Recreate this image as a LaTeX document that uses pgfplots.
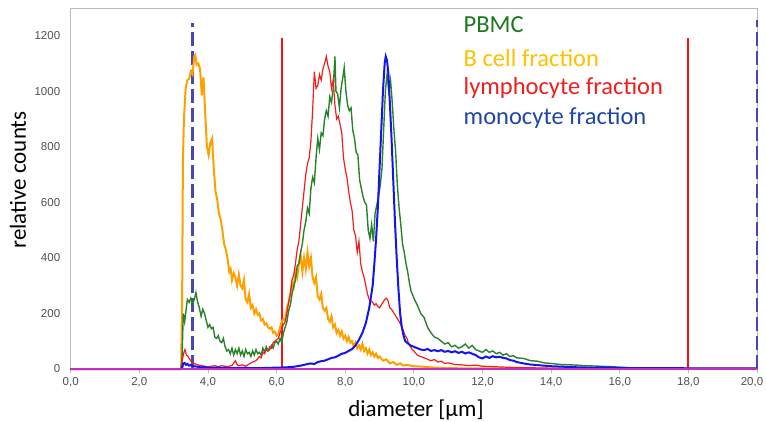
\documentclass[border=0pt]{standalone}
\usepackage{fontspec}
\setmainfont{Carlito}
\newfontfamily\ticksfont{Liberation Sans}
\usepackage{pgfplots}
\pgfplotsset{compat=1.18}

\definecolor{pbmc}{RGB}{40,130,40}
\definecolor{pbmctxt}{RGB}{30,120,30}
\definecolor{bcell}{RGB}{255,160,0}
\definecolor{bcelltxt}{RGB}{255,192,0}
\definecolor{lympho}{RGB}{240,30,30}
\definecolor{mono}{RGB}{20,20,240}
\definecolor{monotxt}{RGB}{30,70,165}
\definecolor{navydash}{RGB}{70,70,180}
\definecolor{gatered}{RGB}{240,20,20}
\definecolor{magline}{RGB}{195,45,195}
\definecolor{framegray}{RGB}{185,185,185}
\definecolor{ticktxt}{RGB}{80,80,80}

\begin{document}
\begin{tikzpicture}
\begin{axis}[
  scale only axis,
  width=686.3pt, height=360pt,
  at={(0,0)}, anchor=south west,
  xmin=0, xmax=20, ymin=0, ymax=1296,
  clip=false,
  axis line style={framegray, line width=1pt},
  xtick={0,2,...,18},
  extra x ticks={20},
  extra x tick style={xticklabel style={xshift=-5pt}},
  ytick={0,200,...,1200},
  tick align=outside,
  tick pos=left,
  major tick length=4pt,
  xtick style={framegray, line width=0.8pt},
  ytick style={draw=none},
  ticklabel style={font=\fontsize{11.5}{13}\selectfont\ticksfont, text=ticktxt},
  /pgf/number format/assume math mode=true,
  xticklabel style={/pgf/number format/.cd, use comma, fixed, fixed zerofill, precision=1, /tikz/.cd, yshift=-1pt},
  yticklabel style={/pgf/number format/1000 sep={}, xshift=-3pt},
  xlabel={diameter [µm]},
  ylabel={relative counts},
  label style={font=\fontsize{23}{27}\selectfont},
  xlabel style={at={(axis description cs:0.503,-0.114)}, anchor=center},
  ylabel style={at={(axis description cs:-0.077,0.525)}, anchor=center},
]

% vertical gates
\addplot [navydash, line width=2.6pt, dash pattern=on 14pt off 5pt] coordinates {(3.55,0) (3.55,1245)};
\addplot [navydash, line width=2.6pt, dash pattern=on 14pt off 5pt] coordinates {(20,0) (20,1255)};
\addplot [gatered, line width=2.2pt] coordinates {(6.16,0) (6.16,1190)};
\addplot [gatered, line width=2.2pt] coordinates {(18.0,0) (18.0,1190)};

% B cell fraction
\addplot [bcell, line width=2pt] coordinates {
(0,0)(3.22,0)(3.25,300)(3.27,750)(3.3,900)(3.35,1010)(3.4,1040)(3.45,1045)(3.5,1070)(3.55,1060)
(3.6,1125)(3.63,1130)(3.67,1095)(3.72,1100)(3.77,1080)(3.82,985)(3.87,1050)(3.92,920)(3.97,800)
(4.02,770)(4.07,815)(4.12,830)(4.17,720)(4.22,640)(4.27,610)(4.32,560)(4.37,540)(4.42,500)
(4.47,450)(4.52,430)(4.57,400)(4.62,350)(4.66,360)(4.7,320)(4.75,345)(4.8,330)(4.85,300)
(4.9,340)(4.95,300)(5.0,290)(5.05,320)(5.1,250)(5.15,240)(5.2,270)(5.25,220)(5.3,230)(5.35,200)
(5.4,215)(5.45,195)(5.5,200)(5.55,175)(5.6,180)(5.65,160)(5.7,165)(5.75,150)(5.8,145)(5.85,150)
(5.9,130)(5.95,135)(6.0,120)(6.05,125)(6.1,150)(6.15,170)(6.2,180)(6.25,175)(6.3,220)(6.35,240)
(6.4,270)(6.45,310)(6.5,295)(6.55,350)(6.6,330)(6.65,380)(6.7,410)(6.75,350)(6.8,400)(6.85,360)
(6.9,420)(6.95,370)(7.0,400)(7.05,330)(7.1,310)(7.15,330)(7.2,260)(7.25,250)(7.3,270)(7.35,220)
(7.4,210)(7.45,220)(7.5,180)(7.55,170)(7.6,190)(7.65,150)(7.7,160)(7.75,130)(7.8,140)(7.85,120)
(7.9,135)(7.95,110)(8.0,120)(8.05,100)(8.1,115)(8.15,95)(8.2,100)(8.25,80)(8.3,95)(8.35,75)
(8.4,85)(8.45,70)(8.5,90)(8.55,65)(8.6,75)(8.65,55)(8.7,70)(8.75,50)(8.8,60)(8.85,45)(8.9,55)
(8.95,40)(9.0,45)(9.1,30)(9.2,35)(9.3,20)(9.4,25)(9.5,15)(9.6,20)(9.7,12)(9.8,15)(10.0,10)
(10.3,8)(10.6,5)(11,3)(12,2)(20,1)
};

% PBMC
\addplot [pbmc, line width=1.4pt] coordinates {
(0,0)(3.22,0)(3.25,60)(3.28,200)(3.32,170)(3.36,210)(3.4,250)(3.45,240)(3.5,255)(3.55,235)
(3.6,250)(3.65,275)(3.7,240)(3.75,220)(3.8,190)(3.85,215)(3.9,200)(3.95,175)(4.0,150)(4.05,160)
(4.1,145)(4.15,150)(4.2,115)(4.25,110)(4.3,120)(4.35,100)(4.4,95)(4.45,110)(4.5,80)(4.55,65)
(4.6,70)(4.65,55)(4.7,75)(4.75,50)(4.8,70)(4.85,55)(4.9,75)(4.95,50)(5.0,65)(5.05,45)(5.1,70)
(5.15,55)(5.2,60)(5.25,45)(5.3,65)(5.35,50)(5.4,70)(5.45,55)(5.5,60)(5.55,50)(5.6,75)(5.65,60)
(5.7,80)(5.75,65)(5.8,70)(5.85,85)(5.9,75)(5.95,95)(6.0,100)(6.05,90)(6.1,110)(6.15,95)(6.2,130)
(6.25,150)(6.3,170)(6.35,210)(6.4,230)(6.45,270)(6.5,300)(6.55,320)(6.6,370)(6.65,380)(6.7,420)
(6.75,450)(6.8,500)(6.85,530)(6.9,580)(6.95,560)(7.0,650)(7.05,690)(7.1,670)(7.15,760)(7.2,830)
(7.25,790)(7.3,850)(7.35,840)(7.4,900)(7.45,930)(7.5,910)(7.55,980)(7.6,960)(7.65,1010)(7.7,1125)
(7.73,1000)(7.78,990)(7.83,940)(7.88,1010)(7.93,1050)(7.97,1085)(8.02,1000)(8.07,950)(8.12,930)
(8.17,940)(8.22,860)(8.27,830)(8.32,780)(8.37,770)(8.42,680)(8.47,650)(8.52,620)(8.57,600)
(8.62,590)(8.67,500)(8.72,470)(8.77,520)(8.82,460)(8.87,560)(8.92,590)(8.97,620)(9.02,660)
(9.07,720)(9.12,860)(9.17,1000)(9.22,1060)(9.27,1000)(9.32,1040)(9.37,960)(9.42,860)(9.47,780)
(9.52,660)(9.57,580)(9.62,520)(9.67,450)(9.72,420)(9.77,380)(9.82,350)(9.87,310)(9.92,280)
(9.97,265)(10.02,250)(10.1,230)(10.2,200)(10.3,185)(10.4,150)(10.5,130)(10.6,115)(10.7,110)
(10.8,100)(10.9,90)(11.0,95)(11.1,80)(11.2,85)(11.3,75)(11.4,80)(11.5,90)(11.6,75)(11.7,85)
(11.8,70)(11.9,65)(12.0,60)(12.1,70)(12.2,60)(12.3,65)(12.4,55)(12.5,60)(12.6,50)(12.7,55)
(12.8,45)(12.9,48)(13.0,40)(13.2,38)(13.4,30)(13.6,28)(13.8,22)(14.0,20)(14.3,16)(14.6,15)
(15.0,12)(15.4,10)(15.8,8)(16.2,5)(16.6,3)(17,2)(20,1)
};

% lymphocyte fraction
\addplot [lympho, line width=1.2pt] coordinates {
(0,0)(3.22,0)(3.25,30)(3.3,60)(3.33,70)(3.37,50)(3.42,45)(3.47,35)(3.52,25)(3.6,20)(3.7,15)
(3.8,12)(3.9,10)(4.0,8)(4.1,10)(4.2,12)(4.3,8)(4.4,12)(4.5,10)(4.6,9)(4.7,13)(4.8,30)(4.85,15)
(4.9,12)(5.0,15)(5.1,10)(5.2,18)(5.3,25)(5.4,30)(5.5,45)(5.55,40)(5.6,60)(5.65,55)(5.7,70)
(5.75,65)(5.8,80)(5.85,75)(5.9,95)(5.95,100)(6.0,105)(6.05,110)(6.1,130)(6.15,145)(6.2,160)
(6.25,170)(6.3,200)(6.35,240)(6.4,270)(6.45,320)(6.5,340)(6.55,380)(6.6,430)(6.65,460)(6.7,520)
(6.75,580)(6.8,640)(6.85,700)(6.9,740)(6.95,760)(7.0,820)(7.05,930)(7.1,1070)(7.15,1010)
(7.2,1020)(7.25,1060)(7.3,1040)(7.35,1080)(7.4,1100)(7.45,1125)(7.5,1090)(7.55,1070)(7.6,1010)
(7.65,1040)(7.7,950)(7.75,900)(7.8,910)(7.85,880)(7.9,850)(7.95,760)(8.0,720)(8.05,690)
(8.1,640)(8.15,600)(8.2,570)(8.25,500)(8.3,480)(8.35,420)(8.4,460)(8.45,380)(8.5,350)(8.55,330)
(8.6,300)(8.65,270)(8.7,250)(8.75,245)(8.8,240)(8.85,230)(8.9,235)(8.95,225)(9.0,220)(9.05,230)
(9.1,240)(9.15,250)(9.2,255)(9.25,245)(9.3,220)(9.35,215)(9.4,205)(9.45,195)(9.5,185)(9.55,175)
(9.6,165)(9.65,150)(9.7,135)(9.75,120)(9.8,110)(9.85,90)(9.9,80)(9.95,70)(10.0,65)(10.1,50)
(10.2,45)(10.3,40)(10.4,35)(10.5,30)(10.6,34)(10.7,25)(10.8,28)(10.9,20)(11.0,22)(11.2,16)
(11.4,15)(11.6,12)(11.8,14)(12.0,10)(12.4,8)(12.8,6)(13.2,5)(14,3)(15,2)(20,1)
};

% monocyte fraction
\addplot [mono, line width=2pt] coordinates {
(0,0)(3.22,0)(3.25,5)(3.28,20)(3.32,22)(3.36,15)(3.4,18)(3.45,12)(3.5,14)(3.6,10)(3.7,8)(3.8,6)
(3.9,7)(4.0,4)(4.3,5)(4.6,3)(5.0,4)(5.5,3)(6.0,5)(6.3,6)(6.5,8)(6.7,12)(6.9,18)(7.0,20)(7.1,18)
(7.2,25)(7.3,28)(7.4,30)(7.5,35)(7.6,40)(7.7,42)(7.8,48)(7.9,55)(8.0,58)(8.1,65)(8.2,72)(8.3,85)
(8.4,105)(8.5,130)(8.6,165)(8.7,220)(8.8,300)(8.85,380)(8.9,470)(8.95,580)(9.0,720)(9.05,860)
(9.1,1000)(9.15,1100)(9.18,1125)(9.22,1110)(9.26,1060)(9.3,960)(9.35,830)(9.4,680)(9.45,530)
(9.5,400)(9.55,290)(9.6,200)(9.65,150)(9.7,120)(9.75,100)(9.8,95)(9.9,85)(10.0,80)(10.1,75)
(10.2,70)(10.3,68)(10.4,72)(10.5,65)(10.6,68)(10.7,64)(10.8,68)(10.9,62)(11.0,65)(11.1,60)
(11.2,64)(11.3,58)(11.4,62)(11.5,56)(11.6,60)(11.7,55)(11.8,50)(11.9,42)(12.0,38)(12.1,45)
(12.2,40)(12.3,46)(12.4,42)(12.5,44)(12.6,40)(12.7,38)(12.8,32)(12.9,30)(13.0,25)(13.2,20)
(13.4,16)(13.6,14)(13.8,12)(14.0,10)(14.4,8)(14.8,6)(15.2,5)(15.6,6)(16,4)(16.5,3)(17,3)(20,2)
};

% zero line
\addplot [magline, line width=2pt] coordinates {(0,0) (20,0)};

% series names
\node [anchor=west, text=pbmctxt, font=\fontsize{24.5}{29}\selectfont] at (axis cs:11.35,1240) {PBMC};
\node [anchor=west, text=bcelltxt, font=\fontsize{24.5}{29}\selectfont] at (axis cs:11.35,1118) {B cell fraction};
\node [anchor=west, text=lympho, font=\fontsize{24.5}{29}\selectfont] at (axis cs:11.35,1010) {lymphocyte fraction};
\node [anchor=west, text=monotxt, font=\fontsize{24.5}{29}\selectfont] at (axis cs:11.35,905) {monocyte fraction};
\end{axis}
\pgfresetboundingbox
\useasboundingbox (-70.7pt,-52pt) rectangle (695.3pt,369pt);
\end{tikzpicture}
\end{document}
